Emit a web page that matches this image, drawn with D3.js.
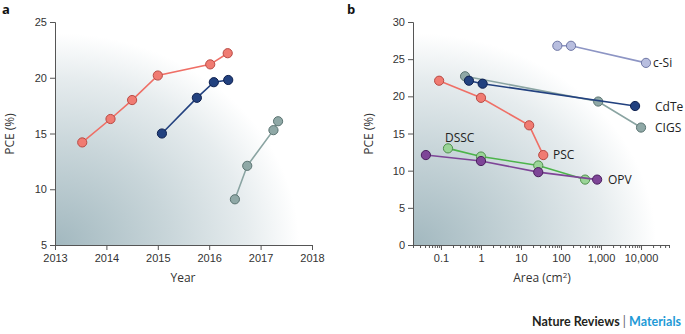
<!DOCTYPE html>
<html>
<head>
<meta charset="utf-8">
<script src="https://cdn.jsdelivr.net/npm/d3@7"></script>
<style>
  body { margin: 0; background: #fff; }
  svg { display: block; font-family: "Open Sans", sans-serif; }
  .axis text { font-size: 11px; fill: #333; }
  .axis path, .axis line { stroke: #555; }
</style>
</head>
<body>
<div id="chart"></div>
<script>
// panel a: PCE over time
const yearsA = {
  psc: [2013.53, 2014.08, 2014.5, 2015.0, 2016.02, 2016.36],
  cdte: [2015.08, 2015.76, 2016.09, 2016.37],
  cigs: [2016.5, 2016.74, 2017.25, 2017.34]
}
const pceA = {
  psc: [14.2, 16.3, 18.0, 20.2, 21.2, 22.2],
  cdte: [15.0, 18.2, 19.6, 19.8],
  cigs: [9.1, 12.1, 15.3, 16.1]
}
const yearTicks = [2013, 2014, 2015, 2016, 2017, 2018]
const pceTicksA = [5, 10, 15, 20, 25]

// panel b: PCE against cell area
const seriesB = ['csi', 'cigs', 'cdte', 'psc', 'dssc', 'opv']
const areaB = {
  csi: [81, 178, 13300],
  cigs: [0.4, 850, 10000],
  cdte: [0.5, 1.1, 7100],
  psc: [0.09, 1, 16, 36],
  dssc: [0.15, 1, 27, 400],
  opv: [0.042, 1, 27, 800]
}
const pceB = {
  csi: [26.8, 26.8, 24.5],
  cigs: [22.7, 19.3, 15.8],
  cdte: [22.1, 21.7, 18.7],
  psc: [22.1, 19.8, 16.1, 12.1],
  dssc: [13.0, 11.9, 10.7, 8.8],
  opv: [12.1, 11.3, 9.8, 8.8]
}
const labelsB = { csi: 'c-Si', cdte: 'CdTe', cigs: 'CIGS', dssc: 'DSSC', psc: 'PSC', opv: 'OPV' }
const areaTicks = [0.1, 1, 10, 100, 1000, 10000]
const pceTicksB = [0, 5, 10, 15, 20, 25, 30]

const colors = {
  psc: { fill: '#f07b72', stroke: '#b84a44', line: '#ef6f66' },
  cdte: { fill: '#22417f', stroke: '#0f2150', line: '#22417f' },
  cigs: { fill: '#8fa8a6', stroke: '#5b7472', line: '#8aa4a2' },
  csi: { fill: '#b8bedf', stroke: '#6f77a5', line: '#8d95c4' },
  dssc: { fill: '#9ad597', stroke: '#4f8f4c', line: '#4cb44a' },
  opv: { fill: '#7e4597', stroke: '#4a1f5e', line: '#7e4597' }
}

const width = 685, height = 334
const svg = d3.select('#chart').append('svg')
  .attr('width', width).attr('height', height)

const defs = svg.append('defs')
const grad = defs.append('radialGradient')
  .attr('id', 'shade')
  .attr('cx', 0).attr('cy', 1).attr('r', 1).attr('fx', 0).attr('fy', 1)
grad.selectAll('stop')
  .data([
    [0, '#a2b8bf'],
    [0.45, '#c9d6da'],
    [0.75, '#e6ecee'],
    [0.95, '#ffffff']
  ])
  .join('stop')
  .attr('offset', d => d[0])
  .attr('stop-color', d => d[1])

function drawSeries(g, xs, ys, x, y, c) {
  const pts = xs.map((v, i) => [x(v), y(ys[i])])
  g.append('path')
    .attr('d', d3.line()(pts))
    .attr('fill', 'none')
    .attr('stroke', c.line)
    .attr('stroke-width', 1.6)
  g.selectAll(null)
    .data(pts)
    .join('circle')
    .attr('cx', d => d[0])
    .attr('cy', d => d[1])
    .attr('r', 4.6)
    .attr('fill', c.fill)
    .attr('stroke', c.stroke)
    .attr('stroke-width', 1)
}

// ---- panel a
{
  const m = { left: 55, right: 312, top: 22, bottom: 245 }
  const x = d3.scaleLinear().domain([2013, 2018]).range([m.left, m.right])
  const y = d3.scaleLinear().domain([5, 25]).range([m.bottom, m.top])
  const g = svg.append('g')

  g.append('rect')
    .attr('x', m.left).attr('y', m.top)
    .attr('width', m.right - m.left).attr('height', m.bottom - m.top)
    .attr('fill', 'url(#shade)')

  g.append('g').attr('class', 'axis')
    .attr('transform', `translate(0,${m.bottom})`)
    .call(d3.axisBottom(x).tickValues(yearTicks).tickFormat(d3.format('d')).tickSizeOuter(0).tickSize(5).tickPadding(4))
  g.append('g').attr('class', 'axis')
    .attr('transform', `translate(${m.left},0)`)
    .call(d3.axisLeft(y).tickValues(pceTicksA).tickSizeOuter(0).tickSize(5).tickPadding(3))

  for (const k of ['psc', 'cdte', 'cigs']) {
    drawSeries(g.append('g'), yearsA[k], pceA[k], x, y, colors[k])
  }

  g.append('text').attr('x', 183).attr('y', 282)
    .attr('text-anchor', 'middle').attr('font-size', 12).attr('fill', '#333').text('Year')
  g.append('text').attr('transform', 'translate(14,134) rotate(-90)')
    .attr('text-anchor', 'middle').attr('font-size', 12).attr('fill', '#333').text('PCE (%)')
  g.append('text').attr('x', 2).attr('y', 14)
    .attr('font-size', 13).attr('font-weight', 'bold').attr('fill', '#111').text('a')
}

// ---- panel b
{
  const m = { left: 413, right: 669, top: 22, bottom: 245 }
  const x = d3.scaleLog().domain([0.02, 50000]).range([m.left, m.right])
  const y = d3.scaleLinear().domain([0, 30]).range([m.bottom, m.top])
  const g = svg.append('g')

  g.append('rect')
    .attr('x', m.left).attr('y', m.top)
    .attr('width', m.right - m.left).attr('height', m.bottom - m.top)
    .attr('fill', 'url(#shade)')

  const minor = x.ticks().filter(t => !areaTicks.includes(t))
  g.append('g').attr('class', 'axis')
    .attr('transform', `translate(0,${m.bottom})`)
    .call(d3.axisBottom(x).tickValues(minor).tickFormat('').tickSizeOuter(0).tickSize(3))
  g.append('g').attr('class', 'axis')
    .attr('transform', `translate(0,${m.bottom})`)
    .call(d3.axisBottom(x).tickValues(areaTicks).tickFormat(d => d < 1 ? d : d3.format(',')(d)).tickSizeOuter(0).tickSize(5).tickPadding(4))
    .call(a => a.select('.domain').remove())
  g.append('g').attr('class', 'axis')
    .attr('transform', `translate(${m.left},0)`)
    .call(d3.axisLeft(y).tickValues(pceTicksB).tickSizeOuter(0).tickSize(5).tickPadding(3))

  for (const k of seriesB) {
    drawSeries(g.append('g'), areaB[k], pceB[k], x, y, colors[k])
  }

  const labelPos = {
    csi: [653, 67], cdte: [655, 111], cigs: [655, 132],
    dssc: [445, 142], psc: [553, 159], opv: [608, 184]
  }
  for (const k of seriesB) {
    g.append('text')
      .attr('x', labelPos[k][0]).attr('y', labelPos[k][1])
      .attr('font-size', 12).attr('fill', '#222').text(labelsB[k])
  }

  const xl = g.append('text').attr('x', 542).attr('y', 282)
    .attr('text-anchor', 'middle').attr('font-size', 12).attr('fill', '#333')
  xl.append('tspan').text('Area (cm')
  xl.append('tspan').attr('dy', -4).attr('font-size', 8).text('2')
  xl.append('tspan').attr('dy', 4).text(')')
  g.append('text').attr('transform', 'translate(373,134) rotate(-90)')
    .attr('text-anchor', 'middle').attr('font-size', 12).attr('fill', '#333').text('PCE (%)')
  g.append('text').attr('x', 347).attr('y', 14)
    .attr('font-size', 13).attr('font-weight', 'bold').attr('fill', '#111').text('b')
}

// credit line
const credit = svg.append('text').attr('x', 681).attr('y', 326)
  .attr('text-anchor', 'end').attr('font-family', 'Lato, sans-serif')
  .attr('font-size', 12.5).attr('font-weight', 'bold')
credit.append('tspan').attr('fill', '#231f20').text('Nature Reviews ')
credit.append('tspan').attr('fill', '#666').attr('font-weight', 'normal').text('| ')
credit.append('tspan').attr('fill', '#1e9ad6').text('Materials')
</script>
</body>
</html>
